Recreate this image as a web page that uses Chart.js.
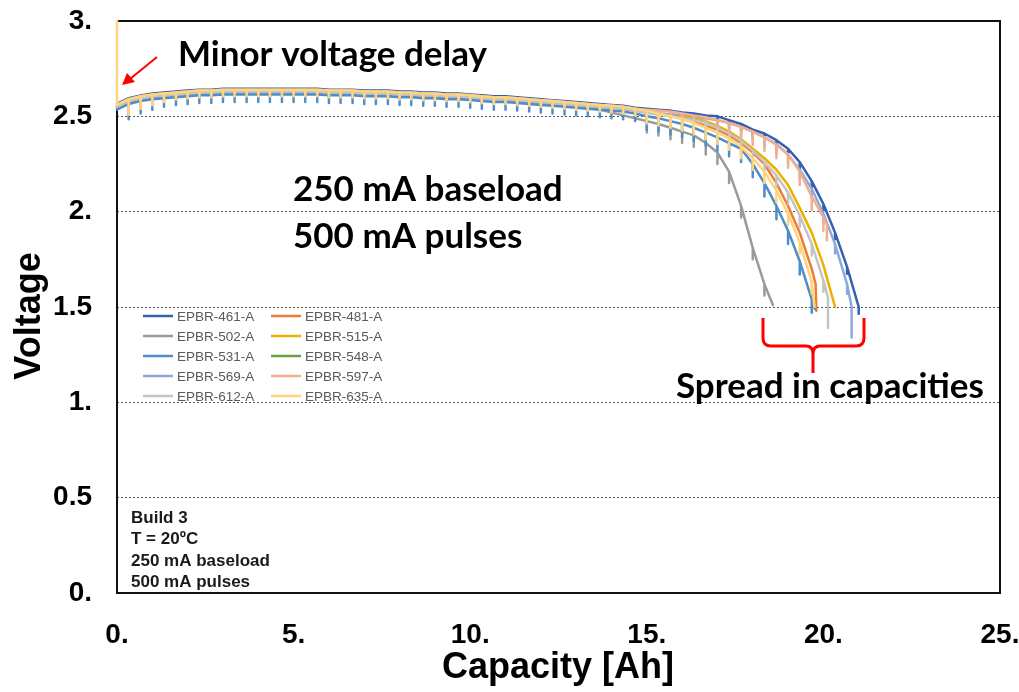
<!DOCTYPE html>
<html>
<head>
<meta charset="utf-8">
<script src="https://cdn.jsdelivr.net/npm/chart.js@4.4.1/dist/chart.umd.min.js"></script>
<style>
  html, body { margin: 0; padding: 0; background: #fff; }
  canvas { display: block; }
</style>
</head>
<body>
<canvas id="chart" width="1019" height="692"></canvas>
<script>
// Capacity at each 500 mA pulse (Ah)
const capacityAh = [0, 0.33, 0.67, 1, 1.33, 1.67, 2, 2.33, 2.67, 3, 3.33, 3.67,
  4, 4.33, 4.67, 5, 5.33, 5.67, 6, 6.33, 6.67, 7, 7.33, 7.67,
  8, 8.33, 8.67, 9, 9.33, 9.67, 10, 10.33, 10.67, 11, 11.33, 11.67,
  12, 12.33, 12.67, 13, 13.33, 13.67, 14, 14.33, 14.67, 15, 15.33, 15.67,
  16, 16.33, 16.67, 17, 17.33, 17.67, 18, 18.33, 18.67, 19, 19.33, 19.67,
  20, 20.33, 20.67, 21];

// Baseload voltage at each pulse, one list per cell
const v461 = [2.565, 2.595, 2.61, 2.62, 2.625, 2.63, 2.635, 2.64, 2.64, 2.645, 2.645, 2.645,
  2.645, 2.645, 2.645, 2.645, 2.645, 2.645, 2.64, 2.64, 2.64, 2.635, 2.635, 2.635,
  2.63, 2.63, 2.625, 2.625, 2.62, 2.62, 2.615, 2.61, 2.605, 2.605, 2.60, 2.595,
  2.59, 2.585, 2.58, 2.575, 2.57, 2.565, 2.56, 2.555, 2.545, 2.54, 2.535, 2.53,
  2.52, 2.515, 2.505, 2.50, 2.48, 2.46, 2.43, 2.41, 2.375, 2.33, 2.26, 2.16,
  2.04, 1.89, 1.71, 1.50];
const v481 = [2.555, 2.585, 2.60, 2.61, 2.615, 2.62, 2.625, 2.63, 2.63, 2.635, 2.635, 2.635,
  2.635, 2.635, 2.635, 2.635, 2.635, 2.635, 2.63, 2.63, 2.63, 2.625, 2.625, 2.625,
  2.62, 2.62, 2.615, 2.615, 2.61, 2.61, 2.605, 2.60, 2.595, 2.595, 2.59, 2.585,
  2.58, 2.575, 2.57, 2.565, 2.56, 2.55, 2.545, 2.54, 2.53, 2.52, 2.51, 2.50,
  2.49, 2.47, 2.45, 2.43, 2.40, 2.36, 2.31, 2.25, 2.15, 2.03, 1.89, 1.70];
const v502 = [2.545, 2.575, 2.59, 2.60, 2.605, 2.61, 2.615, 2.62, 2.62, 2.625, 2.625, 2.625,
  2.625, 2.625, 2.625, 2.625, 2.625, 2.625, 2.62, 2.62, 2.62, 2.615, 2.615, 2.615,
  2.61, 2.61, 2.605, 2.605, 2.60, 2.60, 2.595, 2.59, 2.585, 2.585, 2.58, 2.575,
  2.57, 2.565, 2.56, 2.555, 2.545, 2.535, 2.52, 2.505, 2.49, 2.475, 2.46, 2.44,
  2.42, 2.40, 2.36, 2.31, 2.21, 2.03, 1.81, 1.62];
const v515 = [2.55, 2.58, 2.595, 2.605, 2.61, 2.615, 2.62, 2.625, 2.625, 2.63, 2.63, 2.63,
  2.63, 2.63, 2.63, 2.63, 2.63, 2.63, 2.625, 2.625, 2.625, 2.62, 2.62, 2.62,
  2.615, 2.615, 2.61, 2.61, 2.605, 2.605, 2.60, 2.595, 2.59, 2.59, 2.585, 2.58,
  2.575, 2.57, 2.565, 2.56, 2.555, 2.55, 2.545, 2.54, 2.53, 2.525, 2.515, 2.51,
  2.50, 2.49, 2.475, 2.45, 2.42, 2.38, 2.33, 2.28, 2.22, 2.14, 2.02, 1.89,
  1.72, 1.50];
const v531 = [2.535, 2.565, 2.58, 2.59, 2.595, 2.60, 2.605, 2.61, 2.61, 2.615, 2.615, 2.615,
  2.615, 2.615, 2.615, 2.615, 2.615, 2.615, 2.61, 2.61, 2.61, 2.605, 2.605, 2.605,
  2.60, 2.60, 2.595, 2.595, 2.59, 2.59, 2.585, 2.58, 2.575, 2.575, 2.57, 2.565,
  2.56, 2.555, 2.55, 2.545, 2.54, 2.535, 2.53, 2.525, 2.515, 2.50, 2.49, 2.475,
  2.46, 2.44, 2.415, 2.39, 2.36, 2.33, 2.25, 2.15, 2.03, 1.90, 1.74, 1.54];
const v548 = [];
const v569 = [2.55, 2.58, 2.595, 2.605, 2.61, 2.615, 2.62, 2.625, 2.625, 2.63, 2.63, 2.63,
  2.63, 2.63, 2.63, 2.63, 2.63, 2.63, 2.625, 2.625, 2.625, 2.62, 2.62, 2.62,
  2.615, 2.615, 2.61, 2.61, 2.605, 2.605, 2.60, 2.595, 2.59, 2.59, 2.585, 2.58,
  2.575, 2.57, 2.565, 2.56, 2.555, 2.55, 2.545, 2.54, 2.53, 2.525, 2.515, 2.51,
  2.51, 2.50, 2.49, 2.48, 2.465, 2.445, 2.42, 2.39, 2.355, 2.30, 2.22, 2.12,
  1.99, 1.83, 1.62];
const v597 = [2.56, 2.59, 2.605, 2.615, 2.62, 2.625, 2.63, 2.635, 2.635, 2.64, 2.64, 2.64,
  2.64, 2.64, 2.64, 2.64, 2.64, 2.64, 2.635, 2.635, 2.635, 2.63, 2.63, 2.63,
  2.625, 2.625, 2.62, 2.62, 2.615, 2.615, 2.61, 2.605, 2.60, 2.60, 2.595, 2.59,
  2.585, 2.58, 2.575, 2.57, 2.565, 2.56, 2.555, 2.55, 2.54, 2.535, 2.53, 2.525,
  2.515, 2.505, 2.495, 2.48, 2.465, 2.445, 2.42, 2.39, 2.35, 2.30, 2.21, 2.08,
  1.97];
const v612 = [2.55, 2.58, 2.595, 2.605, 2.61, 2.615, 2.62, 2.625, 2.625, 2.63, 2.63, 2.63,
  2.63, 2.63, 2.63, 2.63, 2.63, 2.63, 2.625, 2.625, 2.625, 2.62, 2.62, 2.62,
  2.615, 2.615, 2.61, 2.61, 2.605, 2.605, 2.60, 2.595, 2.59, 2.59, 2.585, 2.58,
  2.575, 2.57, 2.565, 2.56, 2.555, 2.55, 2.545, 2.54, 2.53, 2.52, 2.51, 2.50,
  2.49, 2.48, 2.465, 2.44, 2.41, 2.37, 2.32, 2.26, 2.19, 2.10, 1.98, 1.83,
  1.64];
const v635 = [2.56, 2.59, 2.605, 2.615, 2.62, 2.625, 2.63, 2.635, 2.635, 2.64, 2.64, 2.64,
  2.64, 2.64, 2.64, 2.64, 2.64, 2.64, 2.635, 2.635, 2.635, 2.63, 2.63, 2.63,
  2.625, 2.625, 2.62, 2.62, 2.615, 2.615, 2.61, 2.605, 2.60, 2.60, 2.595, 2.59,
  2.585, 2.58, 2.575, 2.57, 2.565, 2.56, 2.555, 2.55, 2.54, 2.53, 2.515, 2.50,
  2.485, 2.465, 2.44, 2.415, 2.385, 2.34, 2.28, 2.21, 2.11, 1.99, 1.84, 1.63];

// Final readings after the last full pulse [Ah, V]
const tail461 = [];
const tail481 = [[19.78, 1.62], [19.8, 1.48]];
const tail502 = [[18.57, 1.51]];
const tail515 = [];
const tail531 = [[19.76, 1.49]];
const tail569 = [[20.8, 1.50]];
const tail597 = [[20.1, 1.93]];
const tail612 = [[20.13, 1.55]];
const tail635 = [[19.75, 1.50]];

// Pulse voltage drop [plateau, knee] in V, and the deeper drops of the first pulses
const earlyDrops = [0, 0.08, 0.065, 0.055, 0.045];
const kneeIndex = 45;

const cells = [
  { name: 'EPBR-461-A', color: '#3560AE', volts: v461, tail: tail461, drop: [0, 0.035] },
  { name: 'EPBR-481-A', color: '#ED7D31', volts: v481, tail: tail481, drop: [0, 0] },
  { name: 'EPBR-502-A', color: '#9A9A9A', volts: v502, tail: tail502, drop: [0, 0.06] },
  { name: 'EPBR-515-A', color: '#EBB000', volts: v515, tail: tail515, drop: [0, 0] },
  { name: 'EPBR-531-A', color: '#4E8DCB', volts: v531, tail: tail531, drop: [0.04, 0.07] },
  { name: 'EPBR-548-A', color: '#6AA343', volts: v548, tail: [], drop: [0, 0] },
  { name: 'EPBR-569-A', color: '#8DA9DB', volts: v569, tail: tail569, drop: [0, 0.05], endDip: 1.34 },
  { name: 'EPBR-597-A', color: '#F4AE8C', volts: v597, tail: tail597, drop: [0.035, 0.07], endDip: 1.85 },
  { name: 'EPBR-612-A', color: '#C4C4C4', volts: v612, tail: tail612, drop: [0, 0.06], endDip: 1.39 },
  { name: 'EPBR-635-A', color: '#FFD47A', volts: v635, tail: tail635, drop: [0.035, 0.06], ocv: 3.0 }
];

function buildPoints(cell) {
  const pts = [];
  if (cell.ocv) pts.push({ x: 0, y: cell.ocv });
  cell.volts.forEach((v, i) => {
    const x = capacityAh[i];
    pts.push({ x: x, y: v });
    let d = i >= kneeIndex ? cell.drop[1] : cell.drop[0];
    if (cell.drop[0] > 0 && i < earlyDrops.length) d = earlyDrops[i];
    if (d > 0) {
      pts.push({ x: x, y: v - d });
      pts.push({ x: x, y: v });
    }
  });
  cell.tail.forEach(([x, y]) => pts.push({ x: x, y: y }));
  if (cell.endDip && pts.length) {
    pts.push({ x: pts[pts.length - 1].x, y: cell.endDip });
  }
  return pts;
}

const boldSans = 'bold 35px Lato, "Open Sans", sans-serif';

// Frame, legend, notes and callouts
const overlay = {
  id: 'overlay',
  beforeDatasetsDraw(chart) {
    const { ctx, chartArea: a } = chart;
    ctx.save();
    ctx.strokeStyle = '#111';
    ctx.lineWidth = 2;
    ctx.strokeRect(a.left, a.top, a.right - a.left, a.bottom - a.top);
    ctx.restore();
  },
  afterDraw(chart) {
    const { ctx } = chart;
    ctx.save();

    // axis titles
    ctx.fillStyle = '#000';
    ctx.font = 'bold 36px "Liberation Sans", Arial, sans-serif';
    ctx.textAlign = 'center';
    ctx.textBaseline = 'middle';
    ctx.fillText('Capacity [Ah]', 558, 668);
    ctx.save();
    ctx.translate(30, 316);
    ctx.rotate(-Math.PI / 2);
    ctx.fillText('Voltage', 0, 0);
    ctx.restore();

    // legend, two columns
    ctx.font = '13.5px "Liberation Sans", Arial, sans-serif';
    ctx.textAlign = 'left';
    ctx.textBaseline = 'middle';
    chart.data.datasets.forEach((ds, i) => {
      const x0 = i % 2 === 0 ? 143 : 271;
      const y = 316 + Math.floor(i / 2) * 20;
      ctx.strokeStyle = ds.borderColor;
      ctx.lineWidth = 2.5;
      ctx.beginPath();
      ctx.moveTo(x0, y);
      ctx.lineTo(x0 + 30, y);
      ctx.stroke();
      ctx.fillStyle = '#595959';
      ctx.fillText(ds.label, x0 + 34, y + 1);
    });

    // test conditions
    ctx.fillStyle = '#1a1a1a';
    ctx.font = 'bold 17px "Liberation Sans", Arial, sans-serif';
    ctx.textBaseline = 'alphabetic';
    ['Build 3', 'T = 20ºC', '250 mA baseload', '500 mA pulses'].forEach((t, i) => {
      ctx.fillText(t, 131, 523 + i * 21.3);
    });

    // callout texts
    ctx.fillStyle = '#000';
    ctx.font = boldSans;
    ctx.fillText('Minor voltage delay', 178, 66);
    ctx.fillText('250 mA baseload', 293, 201);
    ctx.fillText('500 mA pulses', 293, 248);
    ctx.fillText('Spread in capacities', 676, 398);

    // red arrow
    ctx.strokeStyle = '#FF0000';
    ctx.fillStyle = '#FF0000';
    ctx.lineWidth = 2;
    ctx.beginPath();
    ctx.moveTo(157, 57);
    ctx.lineTo(130, 79);
    ctx.stroke();
    ctx.beginPath();
    ctx.moveTo(122, 85);
    ctx.lineTo(127, 73);
    ctx.lineTo(135, 82);
    ctx.closePath();
    ctx.fill();

    // brace
    ctx.lineWidth = 3;
    ctx.lineJoin = 'round';
    ctx.beginPath();
    ctx.moveTo(763, 318);
    ctx.lineTo(763, 338);
    ctx.quadraticCurveTo(763, 346, 771, 346);
    ctx.lineTo(806, 346);
    ctx.quadraticCurveTo(813, 346, 813, 354);
    ctx.lineTo(813, 373);
    ctx.moveTo(864, 318);
    ctx.lineTo(864, 338);
    ctx.quadraticCurveTo(864, 346, 856, 346);
    ctx.lineTo(820, 346);
    ctx.quadraticCurveTo(813, 346, 813, 354);
    ctx.stroke();

    ctx.restore();
  }
};

const tickFont = { family: '"Liberation Sans", Arial, sans-serif', size: 28, weight: 'bold' };

// keep tick labels from pushing the plot area inwards
function noLabelPadding(s) {
  s.paddingTop = 0;
  s.paddingBottom = 0;
  s.paddingLeft = 0;
  s.paddingRight = 0;
}

new Chart(document.getElementById('chart'), {
  type: 'scatter',
  data: {
    datasets: cells.map((c, i) => ({
      label: c.name,
      data: buildPoints(c),
      borderColor: c.color,
      backgroundColor: c.color,
      borderWidth: 2.5,
      showLine: true,
      pointRadius: 0,
      pointHoverRadius: 0,
      tension: 0,
      borderJoinStyle: 'round',
      borderCapStyle: 'round',
      clip: 3,
      order: -i
    }))
  },
  options: {
    responsive: false,
    animation: false,
    devicePixelRatio: 1,
    layout: { autoPadding: false, padding: { top: 21, right: 19, left: 0, bottom: 0 } },
    plugins: {
      legend: { display: false },
      tooltip: { enabled: false }
    },
    scales: {
      x: {
        type: 'linear',
        min: 0,
        max: 25,
        afterFit: s => { s.height = 99; noLabelPadding(s); },
        grid: { display: false },
        border: { display: false },
        ticks: {
          stepSize: 5,
          padding: 17,
          color: '#000',
          font: tickFont,
          callback: v => v + '.'
        }
      },
      y: {
        min: 0,
        max: 3,
        afterFit: s => { s.width = 117; noLabelPadding(s); },
        grid: {
          drawTicks: false,
          lineWidth: 1,
          color: c => (c.tick && (c.tick.value === 0 || c.tick.value === 3)) ? 'rgba(0,0,0,0)' : '#555'
        },
        border: { display: false, dash: [2, 2] },
        ticks: {
          stepSize: 0.5,
          padding: 25,
          color: '#000',
          font: tickFont,
          callback: v => Number.isInteger(v) ? v + '.' : String(v)
        }
      }
    }
  },
  plugins: [overlay]
});
</script>
</body>
</html>
